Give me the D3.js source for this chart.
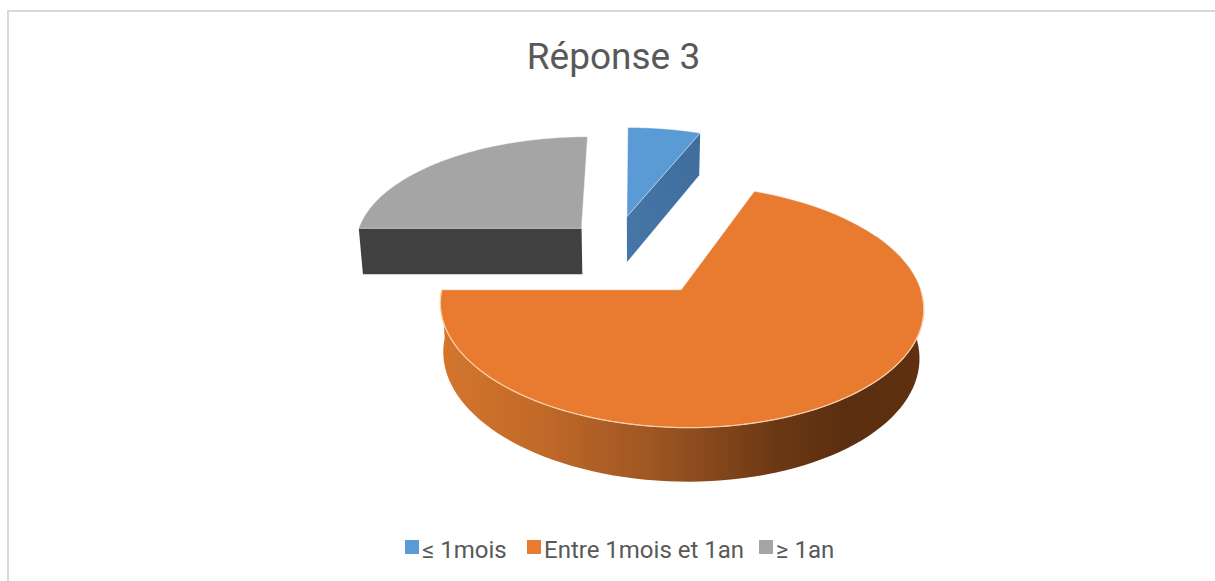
<!DOCTYPE html>
<html>
<head>
<meta charset="utf-8">
<script src="https://cdn.jsdelivr.net/npm/d3@7"></script>
<style>
  html, body { margin: 0; background: #fff; }
  svg { display: block; font-family: Roboto, sans-serif; }
</style>
</head>
<body>
<svg id="chart" width="1215" height="581"></svg>
<script>
var title = "Réponse 3";
var categories = ["≤ 1mois", "Entre 1mois et 1an", "≥ 1an"];
var values = [6, 69, 25];
var topColors = ["#5b9bd5", "#e97b30", "#a5a5a5"];

var svg = d3.select("#chart");

// the frame only has a top and left edge in the picture
svg.append("path")
  .attr("d", d3.line()([[8, 581], [8, 11], [1215, 11]]))
  .attr("fill", "none")
  .attr("stroke", "#d9d9d9")
  .attr("stroke-width", 2);

svg.append("text")
  .attr("x", 613.5)
  .attr("y", 69)
  .attr("text-anchor", "middle")
  .attr("font-size", 37)
  .attr("fill", "#595959")
  .text(title);

// perspective projection of the pie plane
var cx = 635, cy = 255, R = 230, H = 110, k = 0.13, depth = 47, shrink = 0.985;
// how far each slice is pulled away from the centre, in pie plane units
var explode = [[-0.037, 0.365], [0.193, -0.3035], [-0.24, 0.25]];

var project = function(u, v, lower) {
  var w = 1 + k * v;
  var s = lower ? shrink : 1;
  return [cx + s * R * u / w, cy - s * H * v / w + (lower ? depth / w : 0)];
};

var pie = d3.pie().sort(null);
var arcs = pie(values);
var line = d3.line();

var apexOf = function(i, lower) {
  return project(explode[i][0], explode[i][1], lower);
};

var rimPoint = function(i, a, lower) {
  return project(explode[i][0] + Math.sin(a), explode[i][1] + Math.cos(a), lower);
};

var rim = function(i, a0, a1, lower) {
  var n = 90;
  return d3.range(n + 1).map(function(j) {
    return rimPoint(i, a0 + (a1 - a0) * j / n, lower);
  });
};

var defs = svg.append("defs");
var wallGradient = defs.append("linearGradient")
  .attr("id", "orange_wall")
  .attr("gradientUnits", "userSpaceOnUse")
  .attr("x1", 440).attr("x2", 921).attr("y1", 0).attr("y2", 0);
[[0, "#d4762d"], [0.2, "#c26a29"], [0.45, "#9c5522"], [0.7, "#6b3814"], [0.85, "#5a2e10"], [1, "#5f3110"]].forEach(function(s) {
  wallGradient.append("stop").attr("offset", s[0]).attr("stop-color", s[1]);
});

var blueGradient = defs.append("linearGradient")
  .attr("id", "blue_wall")
  .attr("x1", 0).attr("x2", 1).attr("y1", 1).attr("y2", 0);
blueGradient.append("stop").attr("offset", 0).attr("stop-color", "#4577a8");
blueGradient.append("stop").attr("offset", 1).attr("stop-color", "#3f6d9b");

// walls first, tops afterwards so they cover the back of each wall
var walls = [
  { slice: 2, fill: "#404040", pts: [rimPoint(2, -Math.PI / 2, false), apexOf(2, false), apexOf(2, true), rimPoint(2, -Math.PI / 2, true)] },
  { slice: 0, fill: "url(#blue_wall)", pts: [apexOf(0, false), rimPoint(0, arcs[0].endAngle, false), rimPoint(0, arcs[0].endAngle, true), apexOf(0, true)] },
  { slice: 1, fill: "url(#orange_wall)", pts: rim(1, Math.PI / 2 - 0.5, arcs[1].endAngle, false).concat(rim(1, Math.PI / 2 - 0.5, arcs[1].endAngle, true).reverse()) }
];

svg.append("g").selectAll("path").data(walls).enter().append("path")
  .attr("d", function(d) { return line(d.pts) + "Z"; })
  .attr("fill", function(d) { return d.fill; });

svg.append("g").selectAll("path").data(arcs).enter().append("path")
  .attr("d", function(d, i) {
    return line([apexOf(i, false)].concat(rim(i, d.startAngle, d.endAngle, false))) + "Z";
  })
  .attr("fill", function(d, i) { return topColors[i]; })
  .attr("stroke", "#ffffff")
  .attr("stroke-opacity", 0.45)
  .attr("stroke-width", 1);

// pale highlight on the front edge of the big slice
svg.append("path")
  .attr("d", line(rim(1, Math.PI / 2, 3 * Math.PI / 2, false)))
  .attr("fill", "none")
  .attr("stroke", "#f8cfa8")
  .attr("stroke-width", 1.2);

var legendX = [405, 527, 759];
var legend = svg.append("g").selectAll("g").data(categories).enter().append("g")
  .attr("transform", function(d, i) { return "translate(" + legendX[i] + ",540)"; });

legend.append("rect")
  .attr("width", 14)
  .attr("height", 14)
  .attr("fill", function(d, i) { return topColors[i]; });

legend.append("text")
  .attr("x", 17)
  .attr("y", 18)
  .attr("font-size", 24)
  .attr("fill", "#595959")
  .text(function(d) { return d; });
</script>
</body>
</html>
